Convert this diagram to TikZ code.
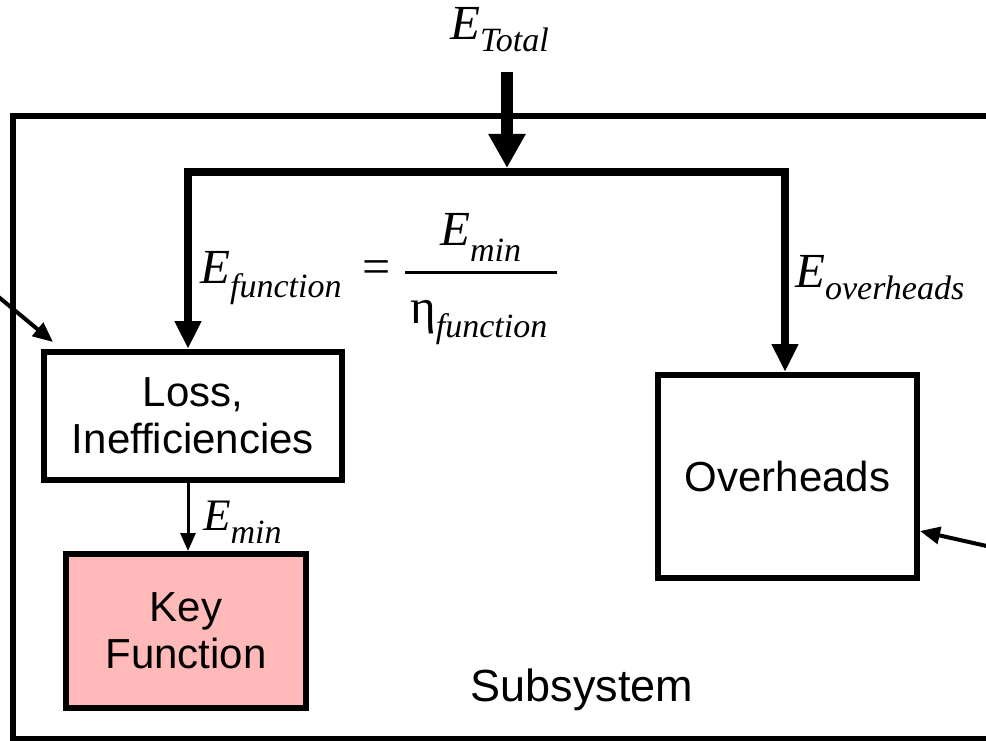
\documentclass[tikz,border=0pt]{standalone}
\usepackage{fontspec}
\setmainfont{Liberation Sans}
\newfontfamily\tms{Liberation Serif}
\usetikzlibrary{arrows.meta}
\definecolor{keypink}{RGB}{255,185,185}
\newcommand\fsz[1]{\fontsize{#1}{#1}\selectfont}
\newcommand\msub[2]{\raisebox{-#1pt}{\fsz{34}\itshape #2}}
\begin{document}
\begin{tikzpicture}[x=1pt,y=-1pt,
  box/.style={draw,line width=6pt,inner sep=0pt,align=center,font=\fontsize{42}{47}\selectfont},
  flow/.style={line width=8pt,line join=miter,-{Triangle[width=25pt,length=28pt]}},
  side/.style={line width=4pt,-{Triangle[width=17pt,length=20pt]}},
  thin/.style={line width=3pt,-{Triangle[width=15pt,length=18pt]}},
  lbl/.style={anchor=base west,inner sep=0pt,font=\tms}]
\useasboundingbox (0,0) rectangle (986,741);
\clip (0,0) rectangle (986,741);
\fill[white] (0,0) rectangle (986,741);
% subsystem frame
\draw[line width=6pt] (13,116) rectangle (1010,739);
\node[font=\fsz{45}] (subs) at (582,690) {Subsystem};
% boxes
\node[box,minimum width=298pt,minimum height=128pt] (loss) at (193,416) {Loss,\\Inefficiencies};
\node[box,fill=keypink,minimum width=240pt,minimum height=154pt] (key) at (186,631) {Key\\Function};
\node[box,minimum width=259pt,minimum height=203pt] (ovh) at (787.5,476.5) {Overheads};
% input
\node[lbl] (etot) at (450,40) {\fsz{49}\itshape E\msub{12}{Total}};
\coordinate (tstart) at (507,72);
\coordinate (split) at (507,168);
\coordinate (bar) at (507,172);
\draw[line width=12pt,-{Triangle[width=35pt,length=34pt]}] (tstart) -- (split);
\draw[flow] (bar) -| ([xshift=-5pt]loss.north);
\draw[flow] (bar) -| ([xshift=-2.5pt]ovh.north);
\draw[thin] ([xshift=-5pt]loss.south) -- ([xshift=2pt]key.north);
% side arrows
\coordinate (lin) at (-5,294);
\coordinate (rin) at (1000,549);
\draw[side] (lin) -- ([shift={(12,-7)}]loss.north west);
\draw[side] (rin) -- ([yshift=-54.5pt]ovh.east);
% labels
\node[lbl] (efun) at (200,283) {\fsz{49}\itshape E\msub{14}{function}};
\node[lbl,font=\tms\fsz{50}] (eq) at (362,283) {=};
\coordinate (fl) at (405,272);
\coordinate (fr) at (557,272);
\draw[line width=3pt] (fl) -- (fr);
\node[lbl] (num) at (440,245) {\fsz{49}\itshape E\msub{17}{min}};
\node[lbl] (den) at (410,323) {\fsz{49}η\msub{14}{function}};
\node[lbl] (eovh) at (795,287) {\fsz{49}\itshape E\msub{13}{overheads}};
\node[lbl] (emin) at (203,530) {\fsz{45}\itshape E\msub{13}{min}};
\end{tikzpicture}
\end{document}
